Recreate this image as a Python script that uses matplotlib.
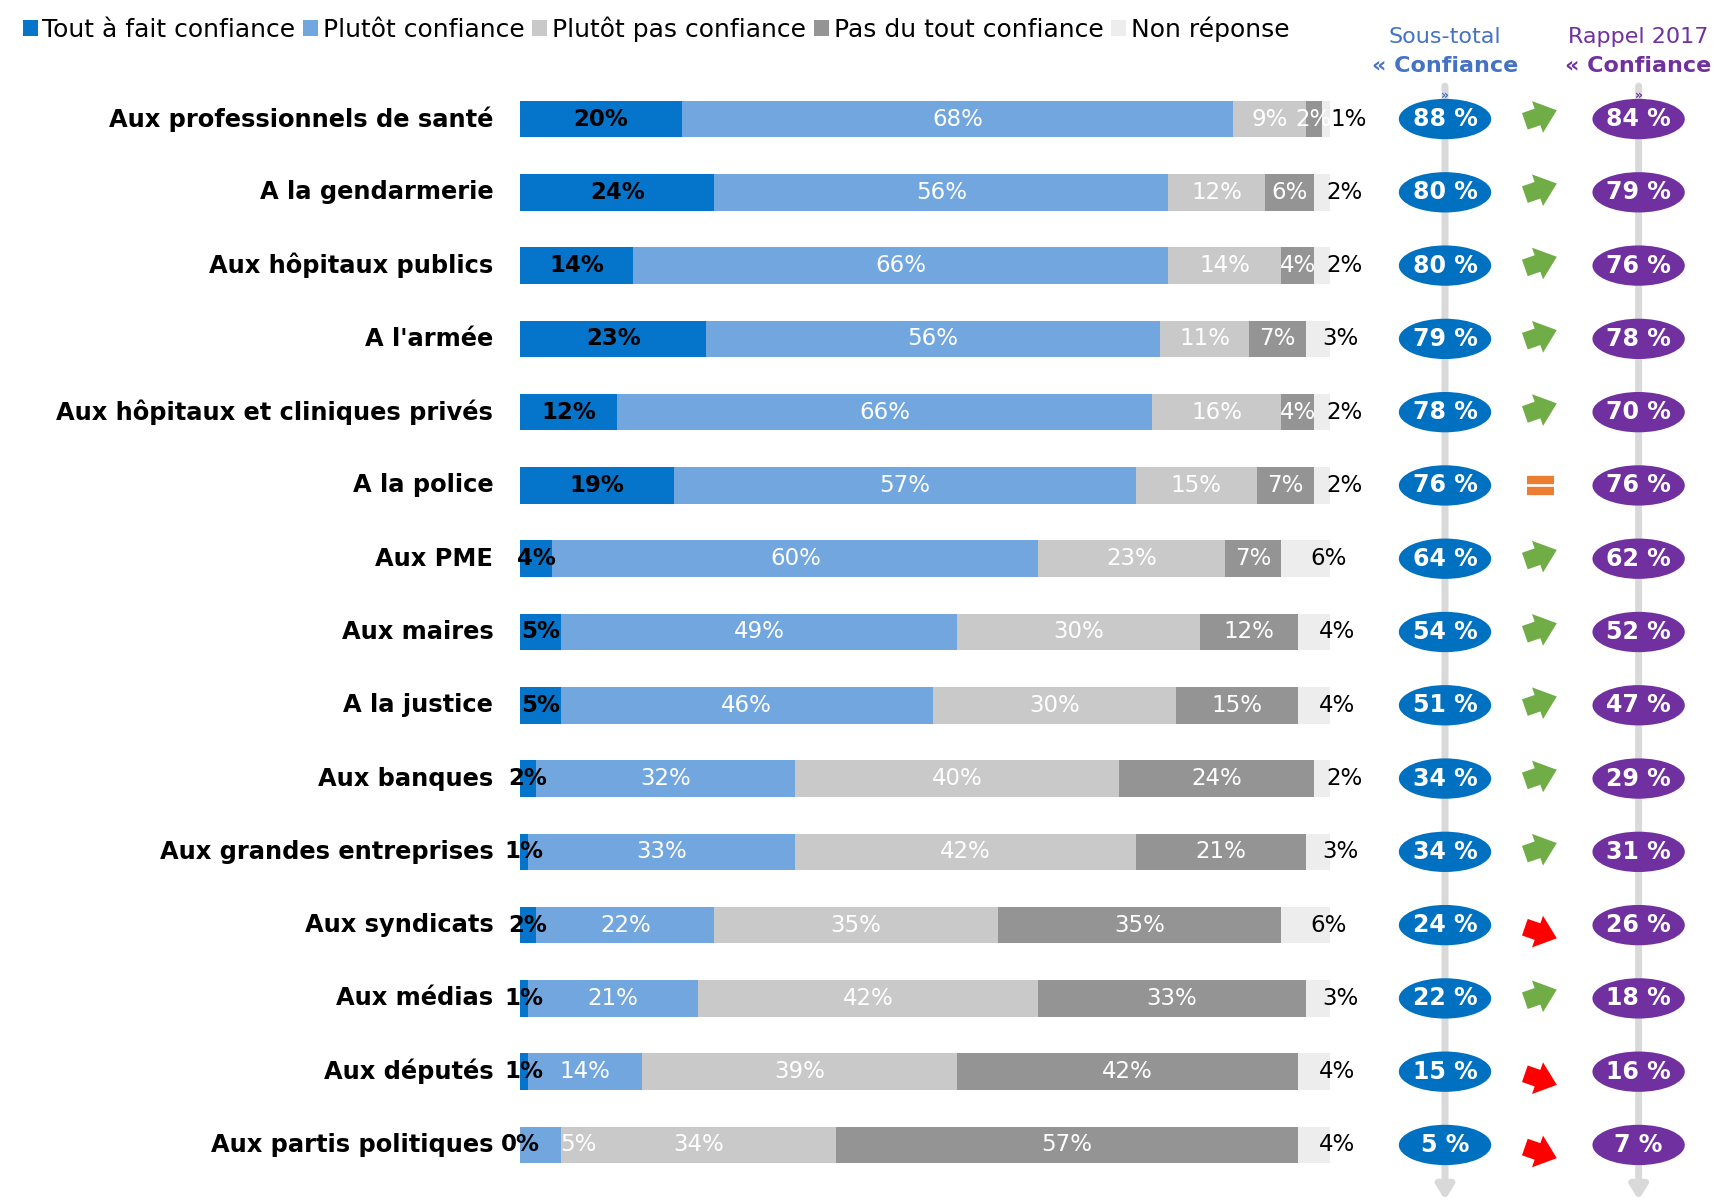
import matplotlib
matplotlib.use("Agg")
import matplotlib.pyplot as plt
from matplotlib.patches import Ellipse, Patch

# data
categories = ["Aux professionnels de santé", "A la gendarmerie", "Aux hôpitaux publics",
              "A l'armée", "Aux hôpitaux et cliniques privés", "A la police", "Aux PME",
              "Aux maires", "A la justice", "Aux banques", "Aux grandes entreprises",
              "Aux syndicats", "Aux médias", "Aux députés", "Aux partis politiques"]
tout_a_fait = [20, 24, 14, 23, 12, 19, 4, 5, 5, 2, 1, 2, 1, 1, 0]
plutot = [68, 56, 66, 56, 66, 57, 60, 49, 46, 32, 33, 22, 21, 14, 5]
plutot_pas = [9, 12, 14, 11, 16, 15, 23, 30, 30, 40, 42, 35, 42, 39, 34]
pas_du_tout = [2, 6, 4, 7, 4, 7, 7, 12, 15, 24, 21, 35, 33, 42, 57]
non_reponse = [1, 2, 2, 3, 2, 2, 6, 4, 4, 2, 3, 6, 3, 4, 4]
sous_total = [88, 80, 80, 79, 78, 76, 64, 54, 51, 34, 34, 24, 22, 15, 5]
rappel_2017 = [84, 79, 76, 78, 70, 76, 62, 52, 47, 29, 31, 26, 18, 16, 7]

series_names = ["Tout à fait confiance", "Plutôt confiance", "Plutôt pas confiance",
                "Pas du tout confiance", "Non réponse"]
series = [tout_a_fait, plutot, plutot_pas, pas_du_tout, non_reponse]
colors = ["#0574CB", "#71A6DF", "#C9C9C9", "#949494", "#EDEDED"]
label_colors = ["black", "white", "white", "white", "black"]

W, H = 1717, 1204
fig = plt.figure(figsize=(W / 100, H / 100), dpi=100)

# axes: x 0..100 -> pixels 520..1330, rows spaced ~73 px
left_px, right_px = 520, 1330
top_px, bot_px = 82.4, 1181.6
ax = fig.add_axes([left_px / W, 1 - bot_px / H, (right_px - left_px) / W, (bot_px - top_px) / H])
n = len(categories)
ys = list(range(n))
ax.set_xlim(0, 100)
ax.set_ylim(n - 0.5, -0.5)
ax.axis("off")

# stacked bars
lefts = [0] * n
for k, (vals, c) in enumerate(zip(series, colors)):
    ax.barh(ys, vals, left=lefts, height=0.5, color=c, edgecolor="none", zorder=2)
    for i, v in enumerate(vals):
        xc = lefts[i] + v / 2
        if k == 4:
            ax.text(xc + 0.6, i, f"{v}%", ha="left", va="center", fontsize=16.5,
                    color="black", zorder=3)
        elif k == 1 and v < 6:
            # too narrow: label pushed just past the segment
            ax.text(lefts[i] + v, i, f"{v}%", ha="left", va="center", fontsize=16.5,
                    color="white", zorder=3)
        else:
            ax.text(xc, i, f"{v}%", ha="center", va="center", fontsize=16.5,
                    color=label_colors[k],
                    fontweight="bold" if k == 0 else "normal", zorder=3)
    lefts = [a + b for a, b in zip(lefts, vals)]

# category labels
for i, cat in enumerate(categories):
    ax.text(-3.3, i, cat, ha="right", va="center", fontsize=17.4, fontweight="bold",
            color="black")

# right-hand columns
x_st, x_arrow, x_rp = 114.2, 126.0, 138.1
for xv in (x_st, x_rp):
    ax.annotate("", xy=(xv, 14.75), xytext=(xv, -0.45),
                arrowprops=dict(arrowstyle="-|>,head_length=0.8,head_width=0.5",
                                color="#D9D9D9", lw=5, shrinkA=0, shrinkB=0),
                annotation_clip=False, zorder=1)

for i in range(n):
    for xv, v, c in ((x_st, sous_total[i], "#0070C0"), (x_rp, rappel_2017[i], "#7030A0")):
        ax.add_patch(Ellipse((xv, i), 11.4, 0.55, facecolor=c, edgecolor="none",
                             clip_on=False, zorder=3))
        ax.text(xv, i, f"{v} %", ha="center", va="center", fontsize=17,
                fontweight="bold", color="white", zorder=4)
    diff = sous_total[i] - rappel_2017[i]
    if diff == 0:
        for dy in (-0.08, 0.08):
            ax.plot([x_arrow - 1.7, x_arrow + 1.7], [i + dy, i + dy], color="#ED7D31",
                    lw=6, solid_capstyle="butt", clip_on=False, zorder=3)
    else:
        up = diff > 0
        ax.annotate("", xy=(x_arrow + 2.0, i + (-0.12 if up else 0.18)),
                    xytext=(-23, -8 if up else 8), textcoords="offset points",
                    arrowprops=dict(arrowstyle="simple,head_length=0.7,head_width=1.15,tail_width=0.6",
                                    mutation_scale=21, color="#70AD47" if up else "#FF0000",
                                    lw=0, shrinkA=0, shrinkB=0),
                    annotation_clip=False, zorder=3)

# column headers
for xv, title, c in ((x_st, "Sous-total", "#4472C4"), (x_rp, "Rappel 2017", "#7030A0")):
    ax.text(xv, -1.12, title, ha="center", va="center", fontsize=16, color=c)
    ax.text(xv, -0.72, "« Confiance", ha="center", va="center", fontsize=16,
            fontweight="bold", color=c)
    ax.text(xv, -0.32, "»", ha="center", va="center", fontsize=9, fontweight="bold", color=c)

# legend
handles = [Patch(facecolor=c, edgecolor="none") for c in colors]
fig.legend(handles, series_names, loc="upper left", bbox_to_anchor=(0.0, 1.005),
           ncol=5, frameon=False, fontsize=18, handlelength=0.6, handleheight=0.6,
           handletextpad=0.2, columnspacing=0.3)

fig.savefig("out.png", dpi=100)
